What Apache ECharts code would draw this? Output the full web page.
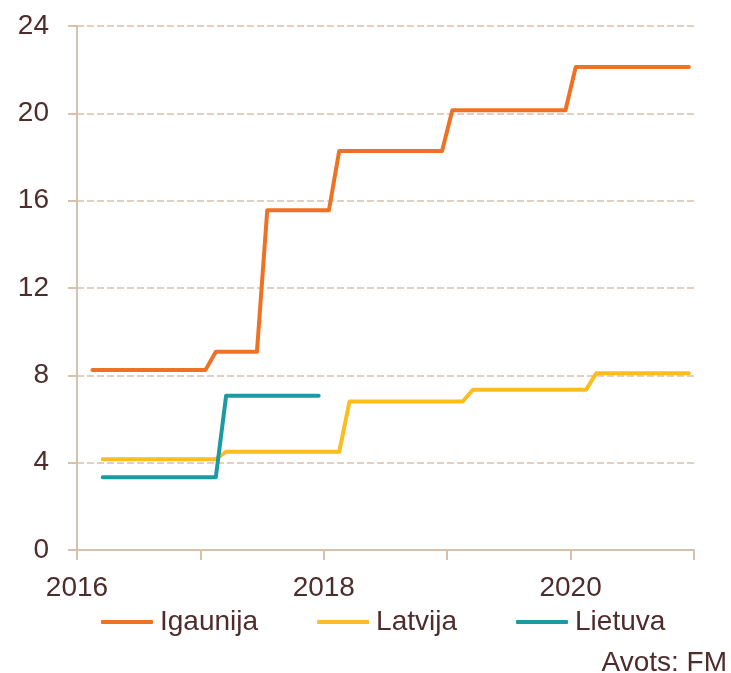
<!DOCTYPE html>
<html>
<head>
<meta charset="utf-8">
<script src="https://cdn.jsdelivr.net/npm/echarts@6/dist/echarts.min.js"></script>
<style>
  html, body { margin: 0; padding: 0; background: #fff; }
  #chart { width: 731px; height: 673px; }
</style>
</head>
<body>
<div id="chart"></div>
<script>
// step points: [month, value]
const igaunija = [
  ['2016-02', 8.25], ['2017-01', 8.25], ['2017-02', 9.08], ['2017-06', 9.08],
  ['2017-07', 15.56], ['2018-01', 15.56], ['2018-02', 18.28], ['2018-12', 18.28],
  ['2019-01', 20.14], ['2019-12', 20.14], ['2020-01', 22.12], ['2020-12', 22.12]
];
const latvija = [
  ['2016-03', 4.16], ['2017-02', 4.16], ['2017-03', 4.5], ['2018-02', 4.5],
  ['2018-03', 6.8], ['2019-02', 6.8], ['2019-03', 7.34], ['2020-02', 7.34],
  ['2020-03', 8.1], ['2020-12', 8.1]
];
const lietuva = [
  ['2016-03', 3.33], ['2017-02', 3.33], ['2017-03', 7.06], ['2017-12', 7.06]
];
const seriesNames = ['Igaunija', 'Latvija', 'Lietuva'];
const colors = ['#ef7123', '#fdbc20', '#1b9aa5'];
const yearLabels = [2016, 2018, 2020];

const textColor = '#4f2c2c';
const tan = '#d9c0aa';
const font = 'Liberation Sans, Arial, sans-serif';

// month -> position in years (mid-month)
const toX = (m) => {
  const [y, mo] = m.split('-').map(Number);
  return y + (mo - 0.5) / 12;
};

const chart = echarts.init(document.getElementById('chart'));
const option = {
  animation: false,
  textStyle: { fontFamily: font },
  grid: { left: 77, top: 26, width: 617, height: 524 },
  xAxis: {
    type: 'value',
    min: 2016,
    max: 2021,
    interval: 1,
    axisLine: { show: true, lineStyle: { color: tan, width: 2 } },
    axisTick: { show: true, length: 10, lineStyle: { color: tan, width: 2 } },
    splitLine: { show: false },
    axisLabel: {
      color: textColor,
      fontSize: 28,
      fontFamily: font,
      margin: 24,
      formatter: (v) => (yearLabels.includes(v) ? String(v) : '')
    }
  },
  yAxis: {
    type: 'value',
    min: 0,
    max: 24,
    interval: 4,
    axisLine: { show: true, lineStyle: { color: tan, width: 2 } },
    axisTick: { show: true, length: 9, lineStyle: { color: tan, width: 2 } },
    splitLine: { show: true, lineStyle: { color: tan, width: 1.5, type: [7, 3] } },
    axisLabel: { color: textColor, fontSize: 28, fontFamily: font, margin: 28 }
  },
  legend: {
    left: 96,
    top: 603,
    itemWidth: 52,
    itemHeight: 4,
    itemGap: 59,
    icon: 'roundRect',
    textStyle: { color: textColor, fontSize: 28, fontFamily: font, padding: [0, 0, 0, 2] },
    data: seriesNames
  },
  graphic: [{
    type: 'text',
    right: 4,
    top: 649,
    style: { text: 'Avots: FM', fill: textColor, fontSize: 28, fontFamily: font }
  }],
  series: [igaunija, latvija, lietuva].map((d, i) => ({
    name: seriesNames[i],
    type: 'line',
    showSymbol: false,
    color: colors[i],
    lineStyle: { width: 4, cap: 'round', join: 'round' },
    data: d.map(p => [toX(p[0]), p[1]])
  }))
};
chart.setOption(option);
</script>
</body>
</html>
